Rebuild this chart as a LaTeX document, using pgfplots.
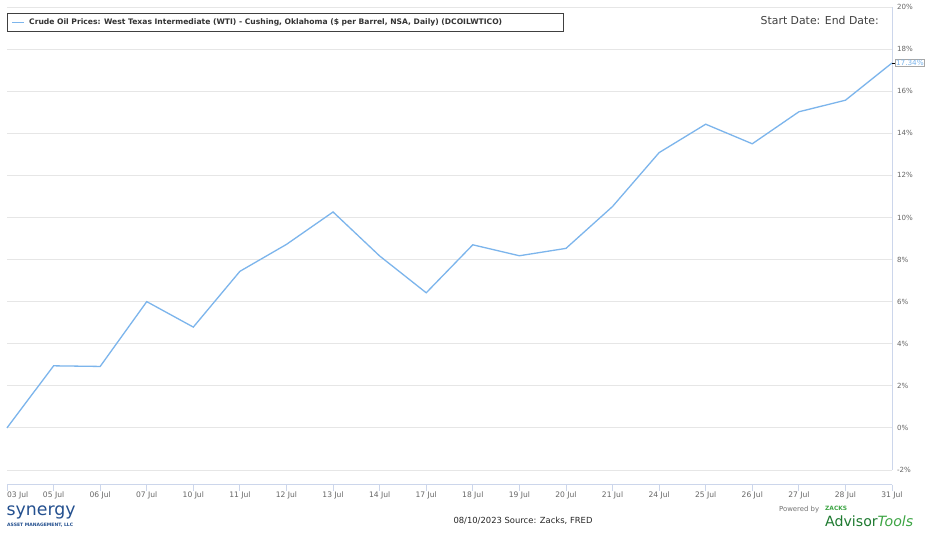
\documentclass[border=0pt]{standalone}
\usepackage{fontspec}
\setmainfont{DejaVu Sans}
\usepackage{pgfplots}
\pgfplotsset{compat=1.18}
\usepackage{pgfplotstable}
\usetikzlibrary{calc}
\definecolor{hcblue}{HTML}{7CB5EC}
\definecolor{gridgray}{HTML}{E6E6E6}
\definecolor{axisblue}{HTML}{CCD6EB}
\definecolor{labelgray}{HTML}{666666}
\definecolor{synblue}{HTML}{24508F}
\definecolor{zgreen}{HTML}{1E7A30}
\definecolor{zlgreen}{HTML}{3DA544}
\pgfplotstableread{
x val
0 0.00
1 2.95
2 2.92
3 6.00
4 4.79
5 7.44
6 8.72
7 10.26
8 8.17
9 6.42
10 8.70
11 8.18
12 8.53
13 10.52
14 13.08
15 14.43
16 13.50
17 15.02
18 15.57
19 17.34
}\wti
\begin{document}
\begin{tikzpicture}[x=1bp,y=1bp]
\path[use as bounding box, fill=white] (0,0) rectangle (936,535);
\begin{axis}[
  at={(7bp,65bp)}, anchor=south west,
  scale only axis, width=885bp, height=463bp,
  xmin=0, xmax=19, ymin=-2, ymax=20,
  axis line style={draw=none},
  clip=false,
  ytick={-2,0,2,4,6,8,10,12,14,16,18,20},
  yticklabel pos=right,
  yticklabel={\pgfmathprintnumber{\tick}\%},
  ymajorgrids,
  grid style={color=gridgray, line width=0.9bp},
  xtick={0,...,19},
  xticklabels={\makebox[0pt][l]{03 Jul},05 Jul,06 Jul,07 Jul,10 Jul,11 Jul,12 Jul,13 Jul,14 Jul,17 Jul,18 Jul,19 Jul,20 Jul,21 Jul,24 Jul,25 Jul,26 Jul,27 Jul,28 Jul,31 Jul},
  major tick length=0pt,
  tick label style={color=labelgray},
  yticklabel style={font=\fontsize{7.1}{7}\selectfont, anchor=west, xshift=1.5bp},
  xticklabel style={font=\fontsize{7.6}{8}\selectfont, anchor=center, yshift=-25bp},
  /pgf/number format/assume math mode=true,
]
\draw[axisblue, line width=0.9bp] (rel axis cs:1,0) -- (rel axis cs:1,1);
\draw[axisblue, line width=0.9bp] ($(rel axis cs:0,0)+(0bp,-14.6bp)$) -- ($(rel axis cs:1,0)+(0bp,-14.6bp)$);
\pgfplotsinvokeforeach{0,...,19}{
  \draw[axisblue, line width=0.9bp] ($(axis cs:#1,-2)+(0bp,-14.6bp)$) -- ++(0bp,-6bp);
}
\addplot[hcblue, line width=1.3bp, mark=none] table[x=x, y=val] {\wti};
\draw[black, line width=0.8bp] (axis cs:19,17.34) -- ++(3bp,0bp);
\node[anchor=west, draw=gray!70, fill=white, inner sep=0.8bp, text=hcblue,
      font=\fontsize{7.3}{8}\selectfont] at ($(axis cs:19,17.34)+(3bp,0bp)$) {17.34\%};
\end{axis}
% legend
\draw[black!75, line width=0.9bp, fill=white] (7,535-13) rectangle (563,535-31.7);
\draw[hcblue, line width=1.4bp] (12,535-22.4) -- (24,535-22.4);
\node[anchor=west, inner sep=0pt, text=black!80] at (29,535-22.4)
  {\resizebox{473bp}{!}{\bfseries Crude Oil Prices: West Texas Intermediate (WTI) - Cushing, Oklahoma (\$ per Barrel, NSA, Daily) (DCOILWTICO)}};
\node[anchor=west, inner sep=0pt, text=black!75] at (760.5,535-20)
  {\resizebox{118bp}{!}{Start Date: End Date:}};
% footer
\node[anchor=center, inner sep=0pt, text=black!85] at (523,535-521)
  {\resizebox{139bp}{!}{08/10/2023 Source: Zacks, FRED}};
\node[anchor=west, inner sep=0pt, text=synblue] at (6.5,535-512)
  {\resizebox{69bp}{!}{synergy}};
\node[anchor=west, inner sep=0pt, text=synblue] at (7,535-525.5)
  {\resizebox{66bp}{!}{\bfseries ASSET MANAGEMENT, LLC}};
\node[anchor=west, inner sep=0pt, text=black!55] at (779,535-510)
  {\resizebox{40bp}{!}{Powered by}};
\node[anchor=west, inner sep=0pt, text=zlgreen] at (825,535-508.5)
  {\resizebox{22bp}{!}{\bfseries ZACKS}};
\node[anchor=west, inner sep=0pt] at (825,535-521)
  {\resizebox{88bp}{!}{\textcolor{zgreen}{Advisor}\textcolor{zlgreen}{\itshape Tools}}};
\end{tikzpicture}
\end{document}
